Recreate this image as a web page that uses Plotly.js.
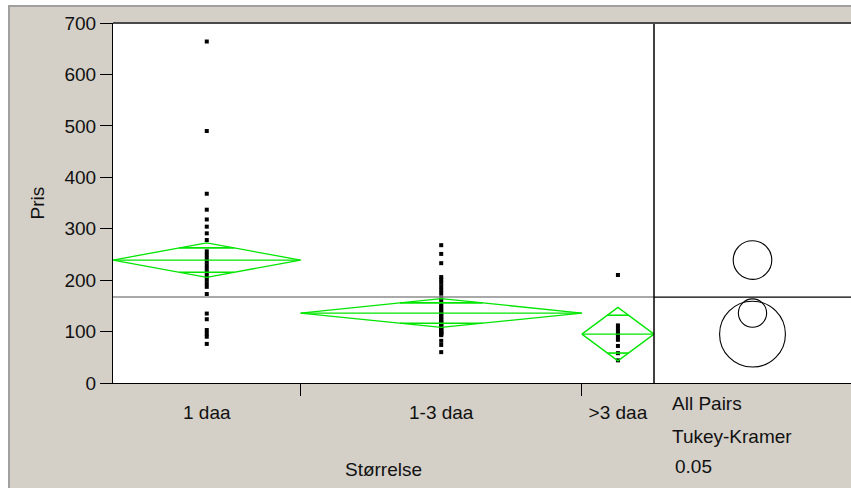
<!DOCTYPE html>
<html>
<head>
<meta charset="utf-8">
<script src="https://cdn.plot.ly/plotly-3.0.1.min.js"></script>
<style>
  html, body { margin: 0; padding: 0; background: #ffffff; width: 851px; height: 488px; overflow: hidden; }
  #wrap { position: absolute; left: 8px; top: 5px; border-left: 2px solid #a0a0a0; border-top: 2px solid #a0a0a0; }
  #chart { width: 841px; height: 481px; }
</style>
</head>
<body>
<div id="wrap"><div id="chart"></div></div>
<script>
// ---- data ----
const categories = ["1 daa", "1-3 daa", ">3 daa"];
const groupN = [26, 39, 10];
const pris1 = [664, 490, 368, 337, 318, 304, 291, 278, 256, 249, 242, 236, 229, 222, 215, 208, 201, 194, 187, 173, 135, 124, 103, 96, 90, 76];
const pris2 = [268, 251, 233, 206, 201, 195, 188, 181, 174, 166, 160, 154, 149, 145, 141, 137, 134, 131, 128, 125, 122, 119, 117, 115, 112, 110, 108, 106, 104, 102, 100, 99, 97, 96, 94, 93, 82, 74, 60];
const pris3 = [210, 112, 106, 100, 95, 90, 84, 72, 58, 44];
const groupMean = [239, 136, 95];
const ciHalf = [33.5, 28, 52];
const circleRadius = [37.5, 27.5, 64];
const grandMean = 167;
const yTicks = [0, 100, 200, 300, 400, 500, 600, 700];
const testLabels = ["All Pairs", "Tukey-Kramer", "0.05"];

// ---- build ----
const FONT = "Liberation Sans, Arial, sans-serif";
const GREEN = "#00e600";
const total = groupN.reduce((a, b) => a + b, 0);
const bounds = [0];
groupN.forEach(n => bounds.push(bounds[bounds.length - 1] + n));
const centers = groupN.map((n, i) => (bounds[i] + bounds[i + 1]) / 2);
const groups = [pris1, pris2, pris3];

const traces = [];
// points
groups.forEach((vals, i) => {
  traces.push({
    type: "scatter", mode: "markers", xaxis: "x", yaxis: "y",
    x: vals.map(() => centers[i]), y: vals,
    marker: { symbol: "square", size: 4, color: "#000000", line: { width: 0 } },
    hoverinfo: "y", showlegend: false
  });
});
// means diamonds
groupMean.forEach((m, i) => {
  const L = bounds[i], R = bounds[i + 1], C = centers[i], h = ciHalf[i];
  traces.push({
    type: "scatter", mode: "lines", xaxis: "x", yaxis: "y",
    x: [L, C, R, C, L, null, L, R],
    y: [m, m + h, m, m - h, m, null, m, m],
    line: { color: GREEN, width: 1.3 }, hoverinfo: "skip", showlegend: false
  });
  const o = h / Math.SQRT2, hw = (R - L) / 2 * (1 - 1 / Math.SQRT2);
  traces.push({
    type: "scatter", mode: "lines", xaxis: "x", yaxis: "y",
    x: [C - hw, C + hw, null, C - hw, C + hw],
    y: [m + o, m + o, null, m - o, m - o],
    line: { color: GREEN, width: 1.6 }, hoverinfo: "skip", showlegend: false
  });
});
// anchor trace for the comparison panel axis
traces.push({ type: "scatter", mode: "none", xaxis: "x2", yaxis: "y", x: [0], y: [grandMean], hoverinfo: "skip", showlegend: false });

const shapes = [
  { type: "line", xref: "x", yref: "y", x0: 0, x1: total, y0: grandMean, y1: grandMean, line: { color: "#8c8c8c", width: 1.5 } },
  { type: "line", xref: "x2 domain", yref: "y", x0: 0, x1: 1, y0: grandMean, y1: grandMean, line: { color: "#000000", width: 1.2 } },
  { type: "line", xref: "x2 domain", yref: "y domain", x0: 0, x1: 0, y0: 0, y1: 1, line: { color: "#000000", width: 1.5 } },
  { type: "line", xref: "paper", yref: "paper", x0: 0, x1: 1, y0: 1, y1: 1, line: { color: "#4a4a4a", width: 2 } }
];
groupMean.forEach((m, i) => {
  const r = circleRadius[i];
  shapes.push({ type: "circle", xref: "x2", yref: "y", x0: -r, x1: r, y0: m - r, y1: m + r, line: { color: "#000000", width: 1.1 } });
});

const annY = [-0.058, -0.15, -0.231];
const annX = [0.081, 0.081, 0.096];
const annotations = testLabels.map((t, i) => ({
  text: t, xref: "x2 domain", yref: "paper", x: annX[i], y: annY[i],
  xanchor: "left", yanchor: "middle", showarrow: false,
  font: { family: FONT, size: 19, color: "#111111" }
}));

const mainFrac = 541 / 738;
const layout = {
  width: 841, height: 481,
  margin: { l: 103, r: 0, t: 16, b: 105 },
  paper_bgcolor: "#d4d0c8", plot_bgcolor: "#ffffff",
  font: { family: FONT, size: 19, color: "#111111" },
  showlegend: false,
  xaxis: {
    domain: [0, mainFrac], range: [0, total], anchor: "y",
    tickmode: "array", tickvals: centers, ticktext: categories,
    ticks: "outside", ticklen: 12, tickcolor: "rgba(0,0,0,0)",
    minor: { tickmode: "array", tickvals: bounds.slice(1, -1), ticks: "outside", ticklen: 12, tickcolor: "#000000", tickwidth: 1, showgrid: false },
    showgrid: false, zeroline: false, showline: true, linecolor: "#000000", linewidth: 1,
    title: { text: "Størrelse", standoff: 40, font: { family: FONT, size: 19 } },
    tickfont: { family: FONT, size: 19 }, fixedrange: true
  },
  xaxis2: {
    domain: [mainFrac, 1], range: [-191.5, 191.5], anchor: "y",
    showticklabels: false, ticks: "", showgrid: false, zeroline: false,
    showline: true, linecolor: "#000000", linewidth: 1, fixedrange: true
  },
  yaxis: {
    domain: [0, 1], range: [0, 700], anchor: "x",
    tickmode: "array", tickvals: yTicks,
    ticks: "outside", ticklen: 12, tickcolor: "#000000", tickwidth: 1,
    showgrid: false, zeroline: false, showline: true, linecolor: "#000000", linewidth: 1,
    title: { text: "Pris", standoff: 14, font: { family: FONT, size: 19 } },
    tickfont: { family: FONT, size: 19 }, fixedrange: true
  },
  shapes: shapes,
  annotations: annotations
};

Plotly.newPlot("chart", traces, layout, { displayModeBar: false, staticPlot: true });
</script>
</body>
</html>
